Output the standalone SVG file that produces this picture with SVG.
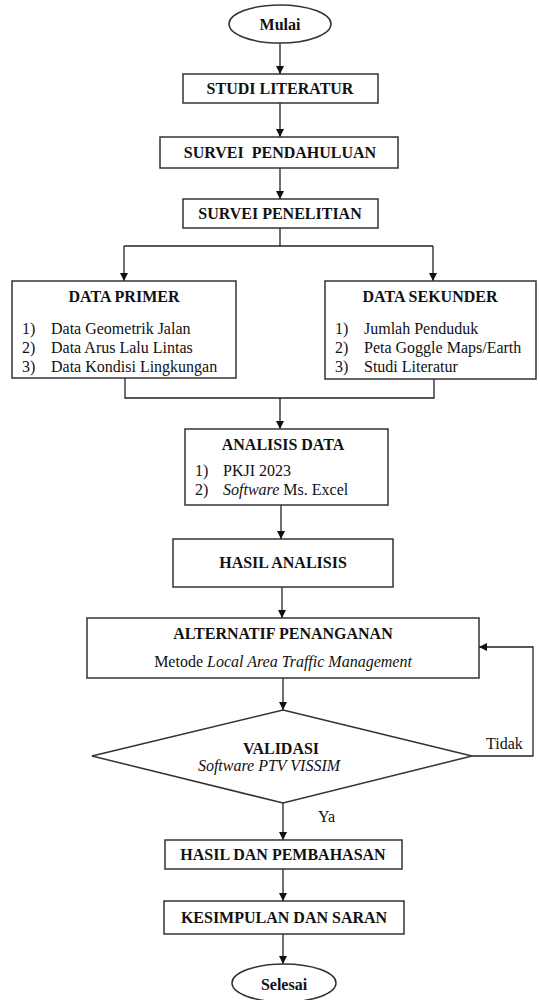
<svg xmlns="http://www.w3.org/2000/svg" width="540" height="1000" viewBox="0 0 540 1000">
<defs>
<marker id="arr" viewBox="0 0 10 10" refX="10" refY="5" markerWidth="8" markerHeight="8" markerUnits="userSpaceOnUse" orient="auto">
<path d="M0,0 L10,5 L0,10 z" fill="#111"/>
</marker>
<style>
.box{fill:#fff;stroke:#333;stroke-width:1.5}
.t{font-family:'Liberation Serif','DejaVu Serif',serif;font-size:16px;fill:#111}
.b{font-weight:bold}
.c{text-anchor:middle}
.i{font-style:italic}
.ln{fill:none;stroke:#222;stroke-width:1.3}
</style>
</defs>
<rect width="540" height="1000" fill="#fff"/>
<g id="connectors" class="ln">
<line x1="280" y1="43" x2="280" y2="74" marker-end="url(#arr)"/>
<line x1="280" y1="103" x2="280" y2="137" marker-end="url(#arr)"/>
<line x1="280" y1="168" x2="280" y2="199" marker-end="url(#arr)"/>
<polyline points="280,228 280,246"/>
<polyline points="124,246 433,246"/>
<line x1="124" y1="246" x2="124" y2="281" marker-end="url(#arr)"/>
<line x1="433" y1="246" x2="433" y2="281" marker-end="url(#arr)"/>
<polyline points="125,378 125,398 434,398 434,379"/>
<line x1="280" y1="398" x2="280" y2="429" marker-end="url(#arr)"/>
<line x1="281" y1="505" x2="281" y2="539" marker-end="url(#arr)"/>
<line x1="282" y1="587" x2="282" y2="618" marker-end="url(#arr)"/>
<line x1="283" y1="678" x2="283" y2="710" marker-end="url(#arr)"/>
<line x1="283" y1="803" x2="283" y2="840" marker-end="url(#arr)"/>
<line x1="283" y1="869" x2="283" y2="901" marker-end="url(#arr)"/>
<line x1="283" y1="934" x2="283" y2="964" marker-end="url(#arr)"/>
<polyline points="472,756 533,756 533,647 479,647" marker-end="url(#arr)"/>
</g>
<g id="mulai">
<ellipse class="box" cx="280" cy="24" rx="51" ry="19"/>
<text class="t b c" x="280" y="30">Mulai</text>
</g>
<g id="studi-literatur">
<rect class="box" x="183" y="74" width="195" height="29"/>
<text class="t b c" x="280" y="94">STUDI LITERATUR</text>
</g>
<g id="survei-pendahuluan">
<rect class="box" x="160" y="137" width="238" height="31"/>
<text class="t b c" x="280" y="158" xml:space="preserve">SURVEI  PENDAHULUAN</text>
</g>
<g id="survei-penelitian">
<rect class="box" x="183" y="199" width="195" height="29"/>
<text class="t b c" x="280" y="219">SURVEI PENELITIAN</text>
</g>
<g id="data-primer">
<rect class="box" x="12" y="281" width="224" height="97"/>
<text class="t b c" x="124" y="302">DATA PRIMER</text>
<text class="t" x="22" y="334">1)</text>
<text class="t" x="51" y="334">Data Geometrik Jalan</text>
<text class="t" x="22" y="353">2)</text>
<text class="t" x="51" y="353">Data Arus Lalu Lintas</text>
<text class="t" x="22" y="372">3)</text>
<text class="t" x="51" y="372">Data Kondisi Lingkungan</text>
</g>
<g id="data-sekunder">
<rect class="box" x="325" y="281" width="211" height="98"/>
<text class="t b c" x="430" y="302">DATA SEKUNDER</text>
<text class="t" x="335" y="334">1)</text>
<text class="t" x="364" y="334">Jumlah Penduduk</text>
<text class="t" x="335" y="353">2)</text>
<text class="t" x="364" y="353">Peta Goggle Maps/Earth</text>
<text class="t" x="335" y="372">3)</text>
<text class="t" x="364" y="372">Studi Literatur</text>
</g>
<g id="analisis-data">
<rect class="box" x="185" y="429" width="203" height="76"/>
<text class="t b c" x="283" y="450">ANALISIS DATA</text>
<text class="t" x="195" y="476">1)</text>
<text class="t" x="223" y="476">PKJI 2023</text>
<text class="t" x="195" y="495">2)</text>
<text class="t" x="223" y="495"><tspan class="i">Software</tspan> Ms. Excel</text>
</g>
<g id="hasil-analisis">
<rect class="box" x="173" y="539" width="220" height="48"/>
<text class="t b c" x="283" y="568">HASIL ANALISIS</text>
</g>
<g id="alternatif-penanganan">
<rect class="box" x="87" y="618" width="392" height="60"/>
<text class="t b c" x="283" y="639">ALTERNATIF PENANGANAN</text>
<text class="t c" x="283" y="667">Metode <tspan class="i">Local Area Traffic Management</tspan></text>
</g>
<g id="validasi">
<polygon class="box" points="283,710 472,756 283,803 92,756"/>
<text class="t b c" x="281" y="754">VALIDASI</text>
<text class="t i c" x="269" y="771">Software PTV VISSIM</text>
</g>
<g id="labels">
<text class="t" x="486" y="749">Tidak</text>
<text class="t" x="318" y="822">Ya</text>
</g>
<g id="hasil-pembahasan">
<rect class="box" x="165" y="840" width="237" height="29"/>
<text class="t b c" x="283" y="860">HASIL DAN PEMBAHASAN</text>
</g>
<g id="kesimpulan-saran">
<rect class="box" x="164" y="901" width="240" height="33"/>
<text class="t b c" x="284" y="923">KESIMPULAN DAN SARAN</text>
</g>
<g id="selesai">
<ellipse class="box" cx="284" cy="983" rx="52" ry="19"/>
<text class="t b c" x="284" y="990">Selesai</text>
</g>
</svg>
